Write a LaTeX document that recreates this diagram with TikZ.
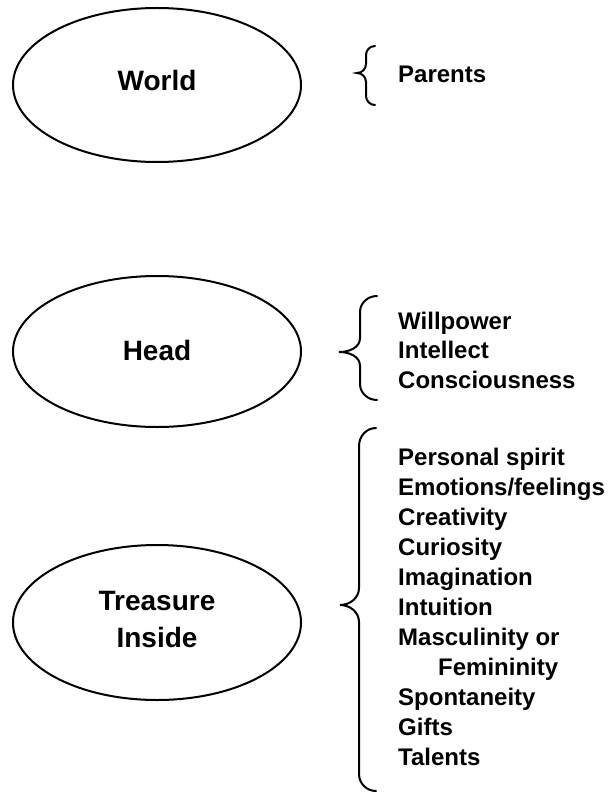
\documentclass[tikz,border=0pt]{standalone}
\usepackage{fontspec}
\setmainfont{Liberation Sans}
\usetikzlibrary{shapes.geometric}
\tikzset{
  oval/.style={draw, ellipse, line width=2pt, minimum width=288pt, minimum height=154pt, inner sep=0pt},
  bigtext/.style={font=\bfseries\fontsize{28}{37}\selectfont, anchor=base, inner sep=0pt},
  item/.style={font=\bfseries\fontsize{24}{29}\selectfont, anchor=base west, inner sep=0pt},
  brace/.style={line width=2pt, line cap=round}
}
\begin{document}
\begin{tikzpicture}[x=1pt,y=-1pt]
\useasboundingbox (0,0) rectangle (610,794);
% ellipses
\node[oval] (world) at (157,85) {};
\node[bigtext] (worldt) at (157,91) {World};
\node[oval, minimum height=151pt] (head) at (157,351.5) {};
\node[bigtext] (headt) at (157,360) {Head};
\node[oval, minimum height=155pt] (treasure) at (157,622.5) {};
\node[bigtext] (treasuret1) at (157,610) {Treasure};
\node[bigtext] (treasuret2) at (157,647) {Inside};
% braces
\draw[brace] (375,46) to[out=180,in=90] (366,55) -- (366,64) to[out=-90,in=0] (357,73)
  to[out=0,in=90] (366,82) -- (366,96) to[out=-90,in=180] (375,105);
\draw[brace] (377,296) to[out=180,in=90] (360,312) -- (360,338) to[out=-90,in=0] (339,352)
  to[out=0,in=90] (360,366) -- (360,384) to[out=-90,in=180] (377,400);
\draw[brace] (376,428) to[out=180,in=90] (359,446) -- (359,588) to[out=-90,in=0] (340,605)
  to[out=0,in=90] (359,622) -- (359,774) to[out=-90,in=180] (376,791);
% lists
\node[item] (parents) at (398,83) {Parents};
\node[item] (h1) at (398,329) {Willpower};
\node[item] (h2) at (398,358.5) {Intellect};
\node[item] (h3) at (398,388) {Consciousness};
\node[item] (t1) at (398,465) {Personal spirit};
\node[item] (t2) at (398,495) {Emotions/feelings};
\node[item] (t3) at (398,525) {Creativity};
\node[item] (t4) at (398,555) {Curiosity};
\node[item] (t5) at (398,585) {Imagination};
\node[item] (t6) at (398,615) {Intuition};
\node[item] (t7) at (398,645) {Masculinity or};
\node[item] (t8) at (438,675) {Femininity};
\node[item] (t9) at (398,705) {Spontaneity};
\node[item] (t10) at (398,735) {Gifts};
\node[item] (t11) at (398,765) {Talents};
\end{tikzpicture}
\end{document}
